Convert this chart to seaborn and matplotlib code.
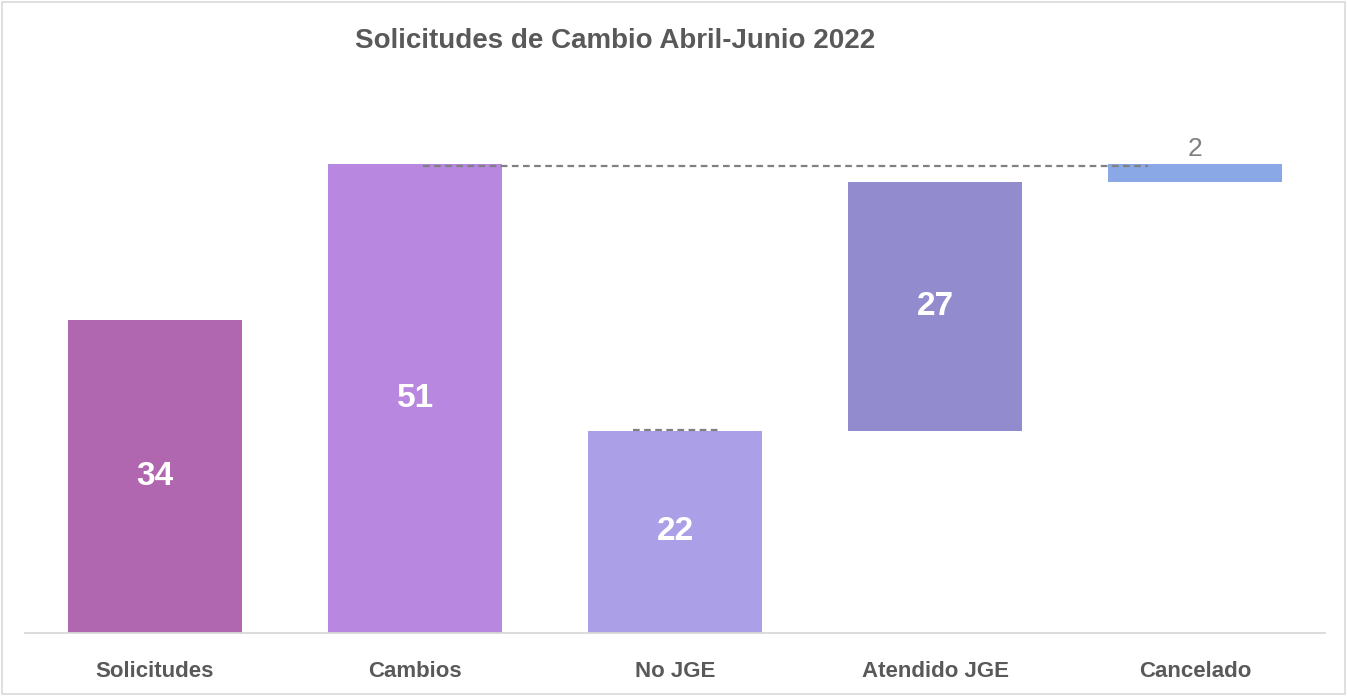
import matplotlib
matplotlib.use("Agg")
import matplotlib.pyplot as plt
import seaborn as sns
import pandas as pd
from matplotlib.patches import Rectangle

categories = ["Solicitudes", "Cambios", "No JGE", "Atendido JGE", "Cancelado"]
values = [34, 51, 22, 27, 2]
bases = [0, 0, 0, 22, 49]
colors = ["#B166B0", "#B888E0", "#ABA0E8", "#928BCD", "#8AA8E6"]
title = "Solicitudes de Cambio Abril-Junio 2022"

sns.set_theme(style="white")
plt.rcParams["font.family"] = ["Liberation Sans", "DejaVu Sans"]

tops = [b + v for b, v in zip(bases, values)]
df = pd.DataFrame({"cat": categories, "top": tops, "base": bases, "val": values})

W, H = 1347, 696
fig = plt.figure(figsize=(W / 100, H / 100), dpi=100)
fig.patch.set_facecolor("white")
fig.add_artist(Rectangle((2 / W, 2 / H), 1 - 4 / W, 1 - 4 / H, transform=fig.transFigure,
                         fill=False, edgecolor="#D9D9D9", linewidth=1.2))

ax = fig.add_axes([25 / W, 1 - 633 / H, 1300 / W, 552 / H])
pal = dict(zip(categories, colors))
sns.barplot(data=df, x="cat", y="top", hue="cat", palette=pal, order=categories,
            hue_order=categories, legend=False, width=0.67, saturation=1, ax=ax,
            edgecolor="none", linewidth=0)
sns.barplot(data=df, x="cat", y="base", order=categories, color="white",
            width=0.68, saturation=1, ax=ax, edgecolor="none", linewidth=0)

ax.set_xlim(-0.5, 4.5)
ax.set_ylim(0, 60)
ax.set_yticks([])
ax.set_xlabel("")
ax.set_ylabel("")
for s in ["top", "right", "left"]:
    ax.spines[s].set_visible(False)
ax.spines["bottom"].set_color("#D9D9D9")
ax.spines["bottom"].set_linewidth(1.3)
ax.tick_params(axis="x", length=0, pad=20)
ax.set_xticklabels(categories, fontsize=16, fontweight="bold", color="#595959")

# connector lines
ax.plot([1.03, 3.82], [50.75, 50.75], ls=(0, (3, 2)), color="#808080", lw=1.6, zorder=3)
ax.plot([1.84, 2.165], [22.1, 22.1], ls=(0, (3, 2)), color="#808080", lw=1.6, zorder=3)

for i, (b, v) in enumerate(zip(bases, values)):
    if i < 4:
        ax.text(i, b + v / 2, str(v), ha="center", va="center", color="white",
                fontsize=24, fontweight="bold")
    else:
        ax.text(i, b + v + 0.3, str(v), ha="center", va="bottom", color="#7F7F7F",
                fontsize=19)

fig.text(615 / W, 1 - 41 / H, title, ha="center", va="center", fontsize=20,
         fontweight="bold", color="#595959")

fig.savefig("out.png", dpi=100, facecolor="white")
